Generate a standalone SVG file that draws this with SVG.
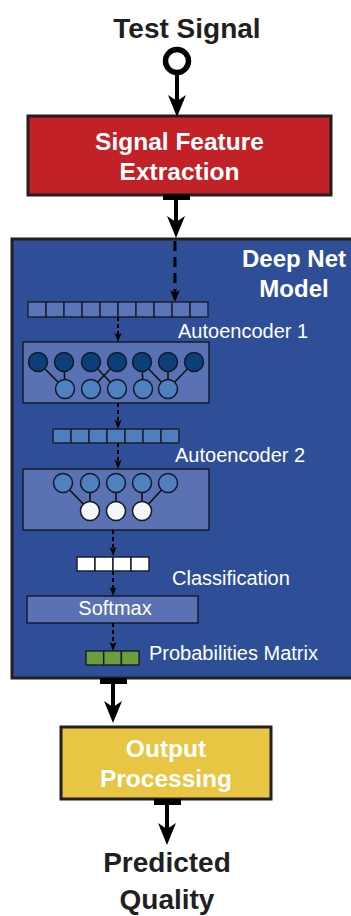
<svg xmlns="http://www.w3.org/2000/svg" width="351" height="916" viewBox="0 0 351 916">
<style>
.title{font-family:"Liberation Sans",Arial,sans-serif;font-weight:bold;font-size:28px;fill:#231f20;text-anchor:middle}
.boxtxt{font-family:"Liberation Sans",Arial,sans-serif;font-weight:bold;font-size:24.5px;fill:#ffffff;text-anchor:middle}
.lbl{font-family:"Liberation Sans",Arial,sans-serif;font-size:20px;fill:#ffffff}
.dn{font-family:"Liberation Sans",Arial,sans-serif;font-weight:bold;font-size:24px;fill:#ffffff;text-anchor:middle}
.inner{fill:#5a72b3;stroke:#1b1f33;stroke-width:1.6}
.cell{fill:#5a76b8;stroke:#1b1f33;stroke-width:1.5}
.cell2{fill:#4f7ebf;stroke:#1b1f33;stroke-width:1.5}
.cellw{fill:#ffffff;stroke:#1b1f33;stroke-width:1.5}
.cellg{fill:#6aa03c;stroke:#1b1f33;stroke-width:1.5}
.nd{fill:#0c3f78;stroke:#111a2a;stroke-width:1.5}
.nm{fill:#4f80c0;stroke:#111a2a;stroke-width:1.5}
.nw{fill:#f6f8f8;stroke:#111a2a;stroke-width:1.5}
.wire{stroke:#111111;stroke-width:1.6}
.big{stroke:#000;stroke-width:4;fill:none}
.dash1{stroke:#000;stroke-width:3;stroke-dasharray:10 6;fill:none}
.dash2{stroke:#000;stroke-width:2;stroke-dasharray:4 3;fill:none}
</style>
<defs>
<marker id="ahBig" markerUnits="userSpaceOnUse" markerWidth="24" markerHeight="20" viewBox="0 -10 24 20" refX="6" refY="0" orient="auto">
<path d="M22,0 L0,-9 L6,0 L0,9 Z" fill="#000"/>
</marker>
<marker id="ahMid" markerUnits="userSpaceOnUse" markerWidth="14" markerHeight="12" viewBox="0 -6 14 12" refX="3" refY="0" orient="auto">
<path d="M12,0 L0,-5 L3,0 L0,5 Z" fill="#000"/>
</marker>
<marker id="ahSm" markerUnits="userSpaceOnUse" markerWidth="10" markerHeight="8" viewBox="0 -4 10 8" refX="2" refY="0" orient="auto">
<path d="M9,0 L0,-3.5 L2,0 L0,3.5 Z" fill="#000"/>
</marker>
</defs>

<rect width="351" height="916" fill="#ffffff"/>

<g id="test-signal">
<text class="title" x="187" y="38">Test Signal</text>
<circle cx="177" cy="61" r="11.5" fill="#fff" stroke="#000" stroke-width="5.5"/>
</g>

<g id="feature-extraction">
<rect x="28" y="116" width="303" height="79" fill="#c12127" stroke="#231f20" stroke-width="3"/>
<text class="boxtxt" x="179.5" y="150">Signal Feature</text>
<text class="boxtxt" x="179.5" y="180">Extraction</text>
</g>

<g id="deep-net">
<rect x="12" y="239" width="360" height="439" fill="#2e4f98" stroke="#231f20" stroke-width="3"/>
<text class="dn" x="294" y="267">Deep Net</text>
<text class="dn" x="294" y="297">Model</text>
</g>

<g id="input-array">
<rect class="cell" x="28" y="302" width="18" height="15"/>
<rect class="cell" x="46" y="302" width="18" height="15"/>
<rect class="cell" x="64" y="302" width="18" height="15"/>
<rect class="cell" x="82" y="302" width="18" height="15"/>
<rect class="cell" x="100" y="302" width="18" height="15"/>
<rect class="cell" x="118" y="302" width="18" height="15"/>
<rect class="cell" x="136" y="302" width="18" height="15"/>
<rect class="cell" x="154" y="302" width="18" height="15"/>
<rect class="cell" x="172" y="302" width="18" height="15"/>
<rect class="cell" x="190" y="302" width="18" height="15"/>
</g>

<g id="autoencoder1">
<rect class="inner" x="23" y="342" width="186" height="61"/>
<line class="wire" x1="38" y1="362" x2="65" y2="389"/>
<line class="wire" x1="64" y1="362" x2="65" y2="389"/>
<line class="wire" x1="91" y1="362" x2="117" y2="389"/>
<line class="wire" x1="117" y1="362" x2="91" y2="389"/>
<line class="wire" x1="142" y1="362" x2="143" y2="389"/>
<line class="wire" x1="142" y1="362" x2="168" y2="389"/>
<line class="wire" x1="168" y1="362" x2="168" y2="389"/>
<line class="wire" x1="194" y1="362" x2="168" y2="389"/>
<circle class="nd" cx="38" cy="362" r="9.5"/>
<circle class="nd" cx="64" cy="362" r="9.5"/>
<circle class="nd" cx="91" cy="362" r="9.5"/>
<circle class="nd" cx="117" cy="362" r="9.5"/>
<circle class="nd" cx="142" cy="362" r="9.5"/>
<circle class="nd" cx="168" cy="362" r="9.5"/>
<circle class="nd" cx="194" cy="362" r="9.5"/>
<circle class="nm" cx="65" cy="389" r="9.5"/>
<circle class="nm" cx="91" cy="389" r="9.5"/>
<circle class="nm" cx="117" cy="389" r="9.5"/>
<circle class="nm" cx="143" cy="389" r="9.5"/>
<circle class="nm" cx="168" cy="389" r="9.5"/>
<text class="lbl" x="178" y="338">Autoencoder 1</text>
</g>

<g id="hidden-array">
<rect class="cell2" x="53" y="429" width="18" height="14"/>
<rect class="cell2" x="71" y="429" width="18" height="14"/>
<rect class="cell2" x="89" y="429" width="18" height="14"/>
<rect class="cell2" x="107" y="429" width="18" height="14"/>
<rect class="cell2" x="125" y="429" width="18" height="14"/>
<rect class="cell2" x="143" y="429" width="18" height="14"/>
<rect class="cell2" x="161" y="429" width="18" height="14"/>
</g>

<g id="autoencoder2">
<rect class="inner" x="23" y="469" width="186" height="61"/>
<line class="wire" x1="63" y1="483" x2="90" y2="511"/>
<line class="wire" x1="90" y1="483" x2="90" y2="511"/>
<line class="wire" x1="116" y1="483" x2="116" y2="511"/>
<line class="wire" x1="142" y1="483" x2="142" y2="511"/>
<line class="wire" x1="168" y1="483" x2="142" y2="511"/>
<circle class="nm" cx="63" cy="483" r="9.5"/>
<circle class="nm" cx="90" cy="483" r="9.5"/>
<circle class="nm" cx="116" cy="483" r="9.5"/>
<circle class="nm" cx="142" cy="483" r="9.5"/>
<circle class="nm" cx="168" cy="483" r="9.5"/>
<circle class="nw" cx="90" cy="511" r="9.5"/>
<circle class="nw" cx="116" cy="511" r="9.5"/>
<circle class="nw" cx="142" cy="511" r="9.5"/>
<text class="lbl" x="175" y="462">Autoencoder 2</text>
</g>

<g id="classification">
<rect class="cellw" x="77" y="557" width="18" height="14"/>
<rect class="cellw" x="95" y="557" width="18" height="14"/>
<rect class="cellw" x="113" y="557" width="18" height="14"/>
<rect class="cellw" x="131" y="557" width="18" height="14"/>
<text class="lbl" x="172" y="585">Classification</text>
</g>

<g id="softmax">
<rect class="inner" x="27" y="596" width="171" height="27"/>
<text class="lbl" x="115" y="615" text-anchor="middle">Softmax</text>
</g>

<g id="probabilities">
<rect class="cellg" x="86" y="651" width="17.7" height="14"/>
<rect class="cellg" x="103.7" y="651" width="17.7" height="14"/>
<rect class="cellg" x="121.4" y="651" width="17.7" height="14"/>
<text class="lbl" x="149" y="660">Probabilities Matrix</text>
</g>

<g id="output-processing">
<rect x="61" y="727" width="210" height="72" fill="#e8c542" stroke="#231f20" stroke-width="3"/>
<text class="boxtxt" x="166" y="757">Output</text>
<text class="boxtxt" x="166" y="787">Processing</text>
</g>

<g id="predicted-quality">
<text class="title" x="167" y="872">Predicted</text>
<text class="title" x="167" y="909">Quality</text>
</g>

<g id="connectors">
<line class="big" x1="177" y1="75" x2="177" y2="101" marker-end="url(#ahBig)"/>
<rect x="163" y="194" width="27" height="6" fill="#000"/>
<line class="big" x1="176" y1="200" x2="176" y2="222" marker-end="url(#ahBig)"/>
<line class="dash1" x1="175" y1="241" x2="175" y2="293" marker-end="url(#ahMid)"/>
<line class="dash2" x1="118" y1="317" x2="118" y2="335" marker-end="url(#ahSm)"/>
<line class="dash2" x1="118" y1="403" x2="118" y2="422" marker-end="url(#ahSm)"/>
<line class="dash2" x1="118" y1="443" x2="118" y2="462" marker-end="url(#ahSm)"/>
<line class="dash2" x1="113" y1="530" x2="113" y2="549" marker-end="url(#ahSm)"/>
<line class="dash2" x1="113" y1="571" x2="113" y2="589" marker-end="url(#ahSm)"/>
<line class="dash2" x1="113" y1="623" x2="113" y2="644" marker-end="url(#ahSm)"/>
<rect x="100" y="678" width="27" height="6" fill="#000"/>
<line class="big" x1="113" y1="684" x2="113" y2="707" marker-end="url(#ahBig)"/>
<rect x="154" y="799" width="27" height="6" fill="#000"/>
<line class="big" x1="167" y1="805" x2="167" y2="829" marker-end="url(#ahBig)"/>
</g>
</svg>
